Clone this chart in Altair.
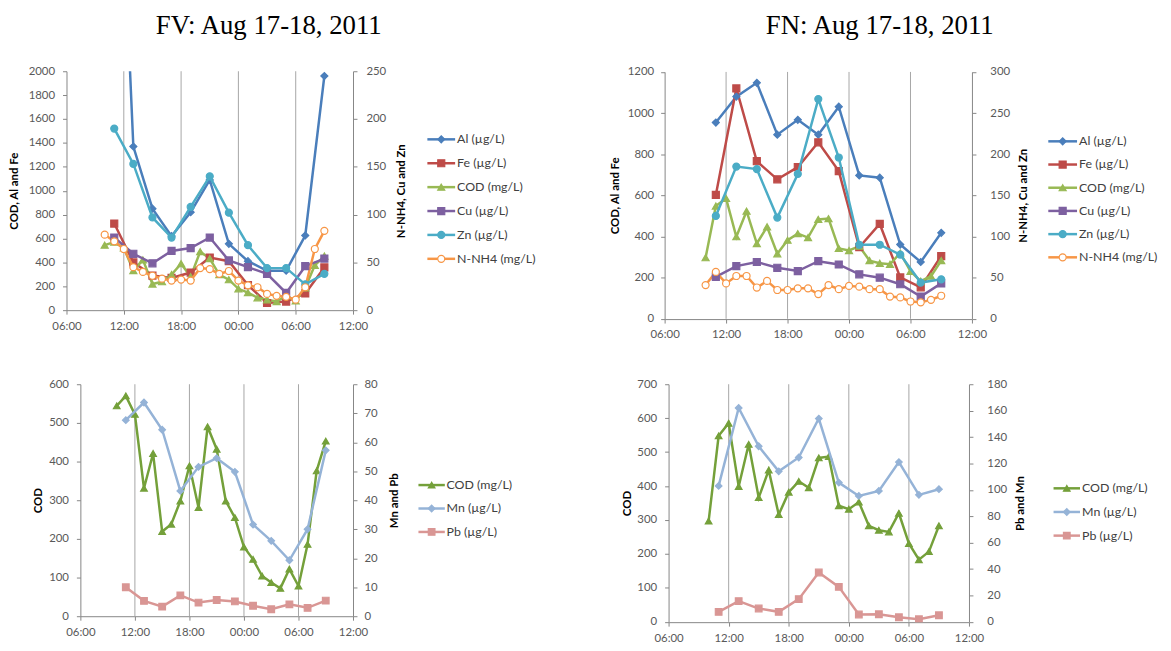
import altair as alt
import pandas as pd

# ---------------- data ----------------
hourly_times = ["10:00", "11:00", "12:00", "13:00", "14:00", "15:00", "16:00", "17:00",
                "18:00", "19:00", "20:00", "21:00", "22:00", "23:00", "00:00", "01:00",
                "02:00", "03:00", "04:00", "05:00", "06:00", "07:00", "08:00", "09:00"]
metal_times = ["11:00", "13:00", "15:00", "17:00", "19:00", "21:00",
               "23:00", "01:00", "03:00", "05:00", "07:00", "09:00"]

# FV site
fv_cod = [544, 570, 522, 331, 421, 219, 238, 298, 389, 281, 490, 432,
          298, 255, 179, 147, 104, 87, 72, 122, 78, 186, 376, 453]
fv_nh4 = [79, 72, 64, 45, 40, 36, 33, 31, 32, 31, 44, 43,
          38, 41, 31, 26, 24, 17, 15, 14, 11, 24, 64, 83]
fv_al = [5000, 1370, 850, 620, 820, 1090, 555, 410, 330, 330, 625, 1960]
fv_fe = [725, 400, 290, 270, 315, 440, 410, 210, 60, 72, 140, 358]
fv_cu = [76, 59, 49, 62, 65, 76, 52, 45, 38, 18, 46, 54]
fv_zn = [190, 153, 97, 76, 108, 140, 102, 68, 44, 44, 27, 38]
fv_mn = [67.6, 73.7, 64.3, 43.2, 51.5, 54.5, 49.8, 31.6, 26.0, 19.3, 30.0, 57.2]
fv_pb = [10.0, 5.3, 3.3, 7.2, 4.7, 5.6, 5.1, 3.6, 2.4, 4.1, 2.9, 5.4]

# FN site
fn_cod = [297, 548, 585, 399, 523, 366, 447, 316, 382, 414, 395, 483,
          487, 342, 332, 353, 283, 270, 265, 320, 231, 183, 207, 283]
fn_nh4 = [41, 57, 43, 52, 52, 38, 46, 35, 35, 37, 37, 30,
          41, 36, 40, 39, 36, 36, 27, 26, 21, 20, 23, 28]
fn_al = [954, 1080, 1147, 895, 967, 895, 1031, 697, 686, 361, 276, 418]
fn_fe = [602, 1120, 766, 678, 737, 858, 718, 348, 461, 201, 153, 305]
fn_cu = [51, 64, 69, 62, 58, 70, 66, 54, 50, 42, 27, 43]
fn_zn = [125, 185, 182, 123, 176, 267, 196, 90, 90, 78, 44, 48]
fn_mn = [103, 162, 133, 114, 124.5, 154, 105.5, 95.4, 99.2, 121, 96.2, 100.5]
fn_pb = [7.6, 15.7, 10.1, 7.6, 17.2, 37.4, 26.5, 5.6, 5.8, 3.5, 2.0, 5.0]

time_ticks = [6, 12, 18, 24, 30, 36]
gridlines = [12, 18, 24, 30]

# ---------------- styles ----------------
FONT = "Lato"
C_AL, C_FE, C_COD, C_CU, C_ZN, C_NH4 = "#4A7EBB", "#BE4B48", "#98B954", "#7D60A0", "#4BACC6", "#F79646"
C_COD2, C_MN, C_PB = "#74A03A", "#95B3D7", "#D99694"
AXIS_COMMON = dict(labelFont=FONT, labelFontSize=11.5, labelColor="#595959",
                   domainColor="#868686", tickColor="#868686", tickSize=4,
                   titleFont=FONT, titleFontSize=11.5, titleFontWeight="bold",
                   titleColor="#000000", grid=False)


def hour(t):
    h = int(t[:2])
    return h + 24 if h < 10 else h


def series(label, times, values, side, color, shape, fill=None):
    return dict(label=label, times=times, values=values, side=side,
                color=color, shape=shape, fill=fill or color)


def long_df(ser, side):
    rows = []
    for s in ser:
        if s["side"] != side:
            continue
        for t, v in zip(s["times"], s["values"]):
            rows.append({"t": hour(t), "v": v, "key": s["label"]})
    return pd.DataFrame(rows)


def make_panel(p):
    ser = p["series"]
    keys = [s["label"] for s in ser]
    cscale = alt.Scale(domain=keys, range=[s["color"] for s in ser])
    fscale = alt.Scale(domain=keys, range=[s["fill"] for s in ser])
    sscale = alt.Scale(domain=keys, range=[s["shape"] for s in ser])
    W, H = p["W"], p["H"]
    xr, yr = p["xr"], p["yr"]

    xaxis = alt.Axis(values=time_ticks, title=None, orient="bottom", offset=0,
                     labelExpr="(datum.value % 24 < 10 ? '0' : '') + (datum.value % 24) + ':00'",
                     labelPadding=6, labelFlush=False, labelOverlap=False, **AXIS_COMMON)
    xscale = alt.Scale(domain=[6, 36], range=xr, nice=False, zero=False)
    X = alt.X("t:Q", scale=xscale, axis=xaxis)

    laxis = alt.Axis(orient="left", values=list(range(0, p["lmax"] + 1, p["lstep"])), format="d",
                     title=p["ltitle"], offset=-xr[0], labelPadding=p["lpad"],
                     titlePadding=p["ltp"], **AXIS_COMMON)
    raxis = alt.Axis(orient="right", values=list(range(0, p["rmax"] + 1, p["rstep"])), format="d",
                     title=p["rtitle"], offset=xr[1] - W, labelPadding=p["rpad"],
                     titlePadding=p["rtp"], titleAngle=270, titleBaseline="top", **AXIS_COMMON)
    YL = alt.Y("v:Q", scale=alt.Scale(domain=[0, p["lmax"]], range=yr, nice=False), axis=laxis)
    YR = alt.Y("v:Q", scale=alt.Scale(domain=[0, p["rmax"]], range=yr, nice=False), axis=raxis)

    color = alt.Color("key:N", scale=cscale, legend=None)
    fill = alt.Fill("key:N", scale=fscale, legend=None)
    stroke = alt.Stroke("key:N", scale=cscale, legend=None)
    shape = alt.Shape("key:N", scale=sscale, legend=None)

    grid = alt.Chart(pd.DataFrame({"t": gridlines})).mark_rule(
        color="#A6A6A6", strokeWidth=1).encode(x=X, y=alt.value(yr[1]), y2=alt.value(yr[0]))

    dl = long_df(ser, "L")
    dr = long_df(ser, "R")
    line_kw = dict(strokeWidth=2.5, clip=True)
    pt_kw = dict(filled=True, opacity=1, size=p["msize"], strokeWidth=1.2, clip=True)
    left = alt.layer(
        grid,
        alt.Chart(dl).mark_line(**line_kw).encode(x=X, y=YL, color=color),
        alt.Chart(dl).mark_point(**pt_kw).encode(x=X, y=YL, fill=fill, stroke=stroke, shape=shape),
    )
    right = alt.layer(
        alt.Chart(dr).mark_line(**line_kw).encode(x=X, y=YR, color=color),
        alt.Chart(dr).mark_point(**pt_kw).encode(x=X, y=YR, fill=fill, stroke=stroke, shape=shape),
    )

    lg = p["legend"]
    leg_df = pd.DataFrame({"key": keys})
    LY = alt.Y("key:N", scale=alt.Scale(type="point", domain=keys, range=lg["yr"], padding=0), axis=None)
    legend = alt.layer(
        alt.Chart(leg_df).mark_rule(strokeWidth=2.5).encode(
            x=alt.value(lg["x1"]), x2=alt.value(lg["x2"]), y=LY, color=color),
        alt.Chart(leg_df).mark_point(filled=True, opacity=1, size=p["msize"], strokeWidth=1.2).encode(
            x=alt.value((lg["x1"] + lg["x2"]) / 2), y=LY, fill=fill, stroke=stroke, shape=shape),
        alt.Chart(leg_df).mark_text(align="left", baseline="middle", font=FONT, fontSize=12.5,
                                    color="#404040").encode(
            x=alt.value(lg["xt"]), y=LY, text="key:N"),
    )
    layers = [left, right, legend]
    if p.get("title"):
        layers.append(
            alt.Chart(pd.DataFrame({"title": [p["title"]]})).mark_text(
                font="Liberation Serif", fontSize=27, align="center", baseline="alphabetic",
                color="#000000").encode(x=alt.value(p["title_xy"][0]), y=alt.value(p["title_xy"][1]),
                                        text="title:N"))
    return alt.layer(*layers).resolve_scale(y="independent").properties(width=W, height=H)


top_series_fv = [
    series("Al (µg/L)", metal_times, fv_al, "L", C_AL, "diamond"),
    series("Fe (µg/L)", metal_times, fv_fe, "L", C_FE, "square"),
    series("COD (mg/L)", hourly_times, fv_cod, "L", C_COD, "triangle-up"),
    series("Cu  (µg/L)", metal_times, fv_cu, "R", C_CU, "square"),
    series("Zn (µg/L)", metal_times, fv_zn, "R", C_ZN, "circle"),
    series("N-NH4 (mg/L)", hourly_times, fv_nh4, "R", C_NH4, "circle", "#FFFFFF"),
]
top_series_fn = [
    series("Al (µg/L)", metal_times, fn_al, "L", C_AL, "diamond"),
    series("Fe (µg/L)", metal_times, fn_fe, "L", C_FE, "square"),
    series("COD (mg/L)", hourly_times, fn_cod, "L", C_COD, "triangle-up"),
    series("Cu (µg/L)", metal_times, fn_cu, "R", C_CU, "square"),
    series("Zn (µg/L)", metal_times, fn_zn, "R", C_ZN, "circle"),
    series("N-NH4 (mg/L)", hourly_times, fn_nh4, "R", C_NH4, "circle", "#FFFFFF"),
]
bot_series_fv = [
    series("COD (mg/L)", hourly_times, fv_cod, "L", C_COD2, "triangle-up"),
    series("Mn (µg/L)", metal_times, fv_mn, "R", C_MN, "diamond"),
    series("Pb (µg/L)", metal_times, fv_pb, "R", C_PB, "square"),
]
bot_series_fn = [
    series("COD (mg/L)", hourly_times, fn_cod, "L", C_COD2, "triangle-up"),
    series("Mn (µg/L)", metal_times, fn_mn, "R", C_MN, "diamond"),
    series("Pb (µg/L)", metal_times, fn_pb, "R", C_PB, "square"),
]

TL = make_panel(dict(
    series=top_series_fv, W=289, H=241, xr=[0, 289], yr=[241, 0], msize=50,
    lmax=2000, lstep=200, rmax=250, rstep=50,
    ltitle="COD, Al and Fe", rtitle="N-NH4, Cu and Zn",
    lpad=8, ltp=9, rpad=9, rtp=10,
    legend=dict(x1=364, x2=392, xt=394, yr=[68.7, 189.2]),
    title="FV: Aug 17-18, 2011", title_xy=(204, -38)))
TR = make_panel(dict(
    series=top_series_fn, W=310, H=250, xr=[0, 310], yr=[249.7, 0.7], msize=50,
    lmax=1200, lstep=200, rmax=300, rstep=50,
    ltitle="COD, Al and Fe", rtitle="N-NH4, Cu and Zn",
    lpad=7, ltp=7, rpad=14, rtp=8,
    legend=dict(x1=387, x2=416, xt=418, yr=[70.7, 187.7]),
    title="FN: Aug 17-18, 2011", title_xy=(217, -38)))
BL = make_panel(dict(
    series=bot_series_fv, W=289, H=234, xr=[14, 289], yr=[234, 0], msize=45,
    lmax=600, lstep=100, rmax=80, rstep=10,
    ltitle="COD", rtitle="Mn and Pb",
    lpad=8, ltp=5, rpad=7, rtp=12,
    legend=dict(x1=355, x2=381.6, xt=383.3, yr=[101.7, 149])))
BR = make_panel(dict(
    series=bot_series_fn, W=307, H=240, xr=[4, 307], yr=[239.7, 0], msize=45,
    lmax=700, lstep=100, rmax=180, rstep=20,
    ltitle="COD", rtitle="Pb and Mn",
    lpad=8, ltp=4, rpad=14, rtp=8,
    legend=dict(x1=392.3, x2=419, xt=421, yr=[105, 152.7])))

chart = alt.concat(
    TL, TR, BL, BR, columns=2, spacing={"row": 65.7, "column": 314.3},
    bounds="flush", align="each",
).resolve_scale(
    color="independent", fill="independent", stroke="independent", shape="independent",
).properties(
    padding={"left": 0, "top": 1, "right": 5, "bottom": 5}, background="#FFFFFF",
).configure_view(stroke=None)

chart.save("out.html", embed_options={"renderer": "svg", "actions": False})
